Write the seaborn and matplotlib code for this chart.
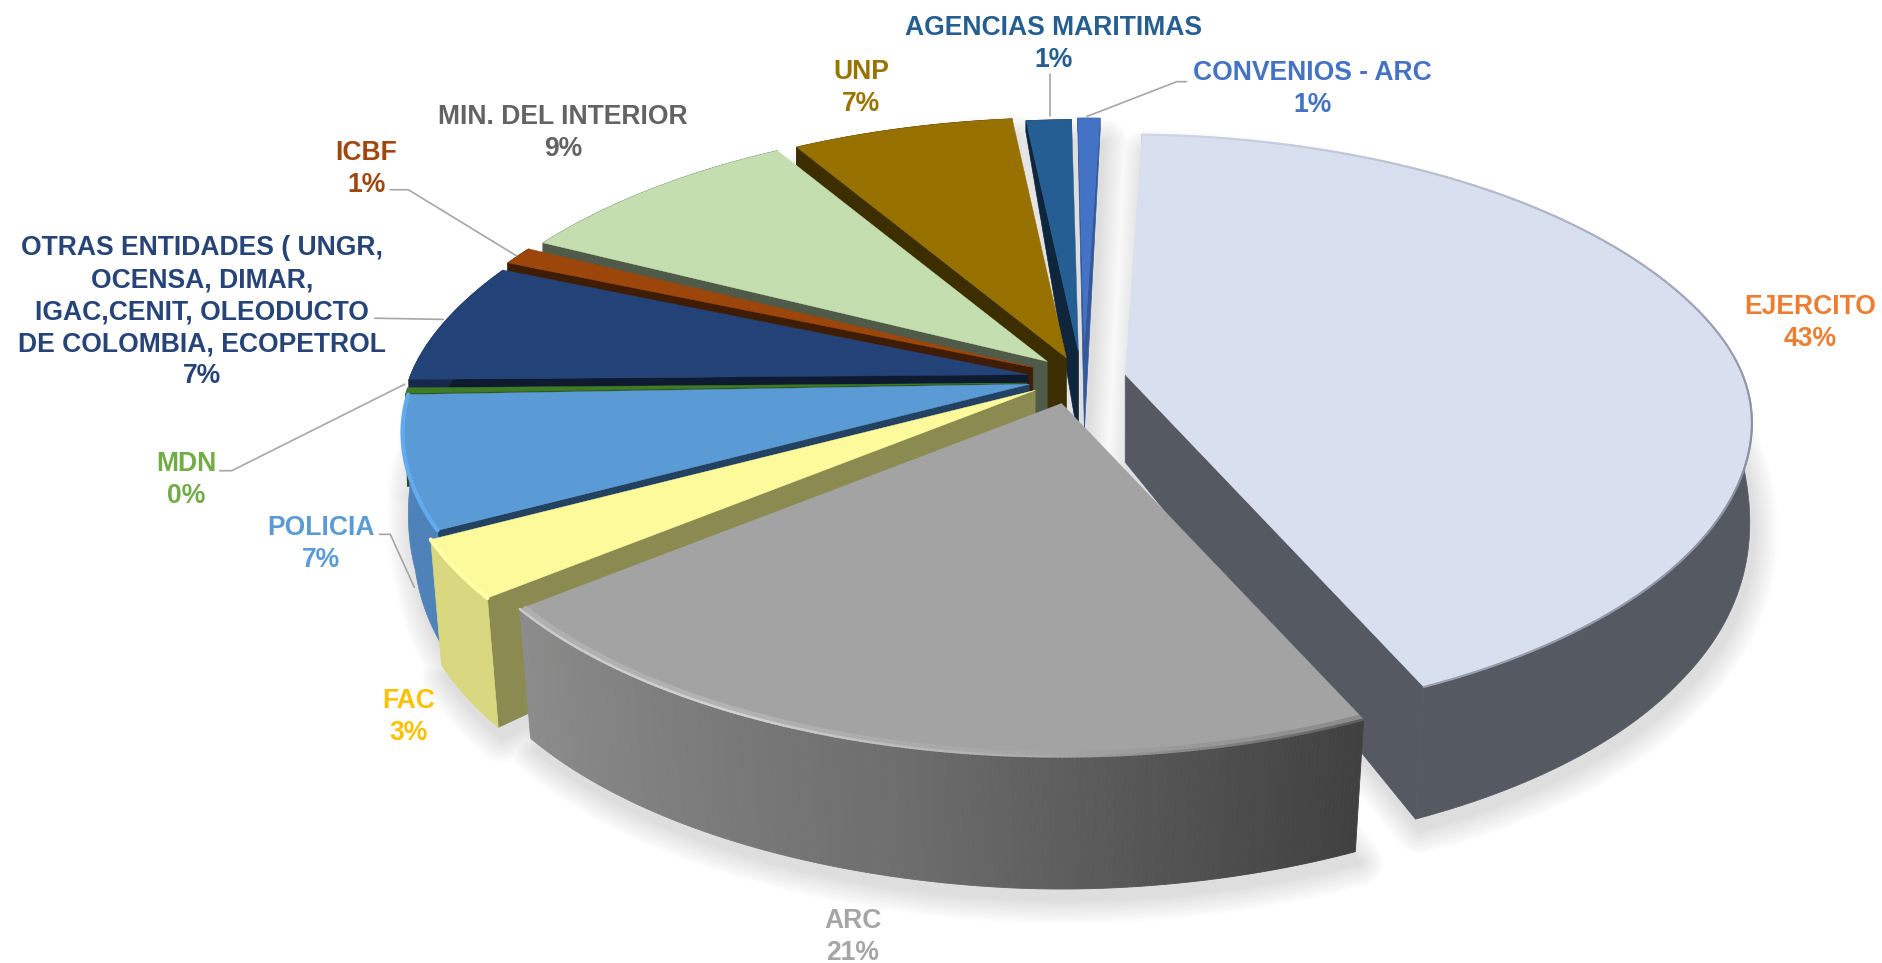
import numpy as np
import matplotlib.pyplot as plt
import seaborn as sns

# datos del grafico (participacion en %)
entidades = ['EJERCITO', 'ARC', 'FAC', 'POLICIA', 'MDN',
             'OTRAS ENTIDADES ( UNGR,\nOCENSA, DIMAR,\nIGAC,CENIT, OLEODUCTO\nDE COLOMBIA, ECOPETROL',
             'ICBF', 'MIN. DEL INTERIOR', 'UNP', 'AGENCIAS MARITIMAS', 'CONVENIOS - ARC']
valores = [42.8, 21.1, 3.1, 7.1, 0.3, 6.6, 1.0, 9.01, 7.0, 1.49, 0.75]

# colores: cara superior, borde exterior, cara radial, texto
c_top = ['#D8DFEE', '#A3A3A3', '#FDFA9B', '#5B9BD5', '#3E7B24', '#234378',
         '#9C460C', '#C5DEB0', '#977100', '#255E92', '#4472C4']
c_rim = ['#555962', '#808080', '#D9D880', '#4F82B8', '#2C4A1C', '#16294A',
         '#3F1C05', '#4F5A48', '#3D2E00', '#0F253B', '#34589A']
c_rad = ['#555962', '#555555', '#8B8A50', '#234262', '#2C4A1C', '#0E1A30',
         '#3F1C05', '#4F5A48', '#3D2E00', '#0F253B', '#34589A']
c_txt = ['#ED7D31', '#A5A5A5', '#FFC000', '#5B9BD5', '#70AD47', '#264478',
         '#9E480E', '#636363', '#997300', '#255E91', '#4472C4']

# geometria: vertice de cada porcion (explosion) y etiquetas
apex_x = [937, 884, 862, 857, 855, 856, 860, 872, 888, 898, 903]
apex_y = [312, 336, 325, 320, 319, 312, 306, 301, 298, 293, 285]
radio = [1, 1.01, 1.02, 1.0, 1, 1, 1, 1, 1, 0.96, 0.92]
label_x = [1507, 710, 340, 267, 155, 168, 305, 469, 717, 877, 1093]
label_y = [269, 780, 597, 453, 400, 260, 141, 111, 73, 37, 74]
leaders = [([905, 980, 988], [97, 68, 68]),
           ([874, 874], [97, 62]),
           ([430, 340, 325], [213, 158, 158]),
           ([369, 312], [266, 265]),
           ([337, 193, 183], [320, 392, 392]),
           ([345, 325, 316], [489, 445, 445])]
RX, RY = 514, 244
START = 1.9
ORDEN = [10, 9, 8, 7, 6, 5, 4, 3, 2, 0, 1]

sns.set_theme(style='white')
plt.rcParams['font.family'] = ['Liberation Sans', 'DejaVu Sans']

fig = plt.figure(figsize=(18.83, 9.63), dpi=100)
ax = fig.add_axes([0, 0, 1, 1])
ax.set_xlim(0, 1568)
ax.set_ylim(802, 0)
ax.axis('off')


def top_pt(i, th, r=None):
    r = radio[i] if r is None else r
    t = np.radians(th)
    u, v = r * np.sin(t), r * np.cos(t)
    s = 1 / (1 + (0.19 + 0.03 * np.tanh(4 * v)) * v)
    return apex_x[i] + RX * u * s, apex_y[i] - RY * v * s


def bottom_pt(i, x, y):
    dy = y - apex_y[i]
    dx = x - apex_x[i]
    d = np.where(dy > 0, 73 + 38 * (1 - np.exp(-dy / 70)), np.maximum(73 + 0.33 * dy, 0))
    # a la izquierda el borde entra mas que a la derecha
    encoge = np.where(dx < 0, 9 * np.clip(dy / 60, 0, 1), 7 * np.clip(dy / 150, 0, 1))
    return x - encoge * np.tanh(dx / 100), y + d


# angulos acumulados de cada porcion
cuts = START + np.cumsum([0] + valores) * 360 / sum(valores)
arcos = [np.linspace(cuts[i], cuts[i + 1], max(int(cuts[i + 1] - cuts[i]) * 3, 6)) for i in range(len(valores))]

# sombra suave bajo el pastel
sombra = sns.blend_palette(['#FFFFFF', '#DEDEDE'], n_colors=14)
for k, w in enumerate(np.linspace(38, 1, 14)):
    for i in ORDEN:
        x, y = top_pt(i, arcos[i])
        xb, yb = bottom_pt(i, x, y)
        px = np.r_[apex_x[i], xb] + 3
        py = np.r_[apex_y[i] + 73, yb] + 9
        ax.fill(px, py, color=sombra[k], lw=w, joinstyle='round', zorder=1)

# porciones de atras hacia adelante
for n, i in enumerate(ORDEN):
    z = 2 + n
    x, y = top_pt(i, arcos[i])
    xb, yb = bottom_pt(i, x, y)
    ax0, ay0 = apex_x[i], apex_y[i]

    # cara radial visible
    for j, th in ((0, cuts[i]), (-1, cuts[i + 1])):
        s = np.sin(np.radians(th))
        if (j == 0 and s < 0) or (j == -1 and s > 0):
            ax.fill([ax0, x[j], xb[j], ax0], [ay0, y[j], yb[j], ay0 + 73],
                    color=c_rad[i], lw=0.5, zorder=z)

    # borde exterior (ARC con degradado)
    if entidades[i] == 'ARC':
        grad = sns.blend_palette(['#8C8C8C', '#6E6E6E', '#404040'], n_colors=len(x) - 1)
        for k in range(len(x) - 1):
            ax.fill([x[k], x[k + 1], xb[k + 1], xb[k]], [y[k], y[k + 1], yb[k + 1], yb[k]],
                    color=grad[::-1][k], lw=0.6, zorder=z)
    else:
        ax.fill(np.r_[x, xb[::-1]], np.r_[y, yb[::-1]], color=c_rim[i], lw=0.5, zorder=z)

    # cara superior
    ax.fill(np.r_[ax0, x], np.r_[ay0, y], color=c_top[i], lw=0.3, zorder=z)

    # brillo del bisel en el frente
    if entidades[i] == 'ARC':
        brillo = sns.blend_palette(['#C9C9C9', '#D2D2D2', '#A8A8A8', '#5E5E5E'], n_colors=len(x) - 1)[::-1]
        xi, yi = top_pt(i, arcos[i], radio[i] * 0.994)
        for k in range(len(x) - 1):
            ax.plot(xi[k:k + 2], yi[k:k + 2], color=brillo[k], lw=4.5, alpha=0.35, zorder=z, solid_capstyle='butt')
            ax.plot(x[k:k + 2], y[k:k + 2], color=brillo[k], lw=1.8, zorder=z, solid_capstyle='round')
    elif entidades[i] == 'EJERCITO':
        borde = sns.blend_palette(['#D0D6E6', '#AEB4C6', '#8A90A0', '#9AA0B0'], n_colors=len(x) - 1)
        for k in range(len(x) - 1):
            ax.plot(x[k:k + 2], y[k:k + 2], color=borde[k], lw=1.5, zorder=z, solid_capstyle='round')
    elif entidades[i] == 'FAC':
        ax.plot(x, y, color='#FFFDA6', lw=3, zorder=z)
    elif entidades[i] == 'POLICIA':
        ax.plot(x, y, color='#62ABEE', lw=3, zorder=z)

# lineas guia
for lx, ly in leaders:
    ax.plot(lx, ly, color='#A6A6A6', lw=1.2, zorder=30)

# etiquetas
for i, nombre in enumerate(entidades):
    ax.text(label_x[i], label_y[i], f'{nombre}\n{valores[i]:.0f}%', color=c_txt[i], fontsize=19.1,
            fontweight='bold', ha='center', va='center', linespacing=1.3, zorder=31)

fig.savefig('out.png', dpi=100, facecolor='white')
